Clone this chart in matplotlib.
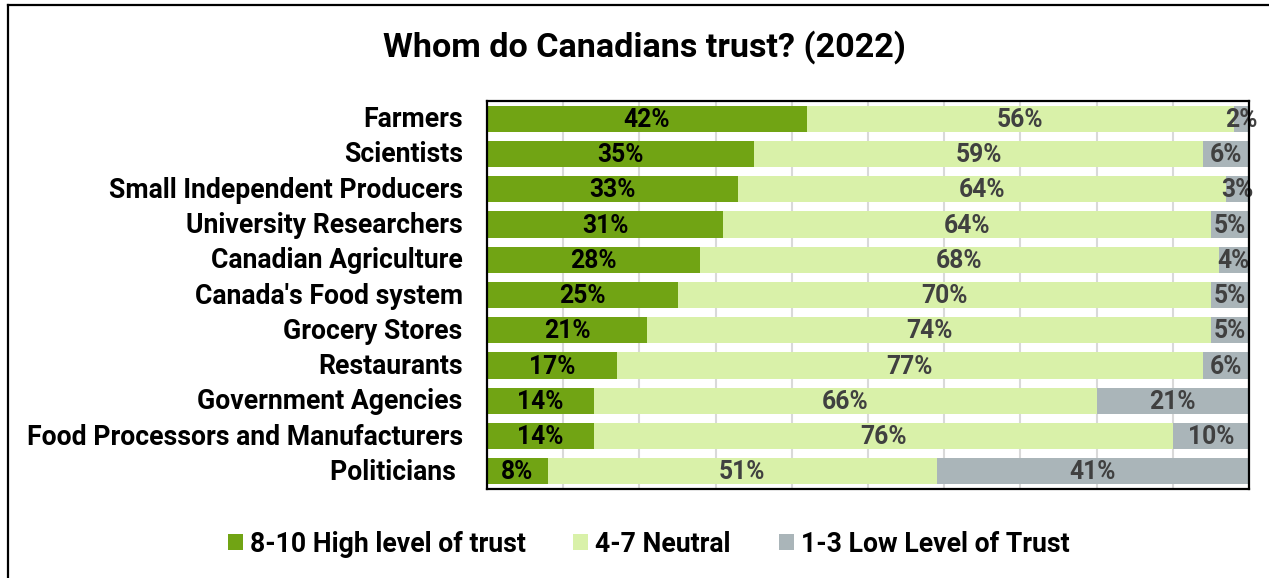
import matplotlib
matplotlib.use("Agg")
import matplotlib.pyplot as plt
import matplotlib.transforms as mtransforms
from matplotlib.lines import Line2D
from matplotlib.patches import Patch
import numpy as np

plt.rcParams['font.family'] = ['Roboto', 'DejaVu Sans']

categories = ["Farmers", "Scientists", "Small Independent Producers", "University Researchers",
              "Canadian Agriculture", "Canada's Food system", "Grocery Stores", "Restaurants",
              "Government Agencies", "Food Processors and Manufacturers", "Politicians "]
high = [42, 35, 33, 31, 28, 25, 21, 17, 14, 14, 8]
neutral = [56, 59, 64, 64, 68, 70, 74, 77, 66, 76, 51]
low = [2, 6, 3, 5, 4, 5, 5, 6, 21, 10, 41]
series_names = ["8-10 High level of trust", "4-7 Neutral", "1-3 Low Level of Trust"]
colors = ["#71a414", "#d9f1a9", "#aab5b9"]
label_colors = ["#000000", "#404040", "#404040"]
title = "Whom do Canadians trust? (2022)"

W, H = 1269, 578
fig = plt.figure(figsize=(W / 100, H / 100), dpi=100)
ax = fig.add_axes([487 / W, 1 - 489 / H, (1249 - 487) / W, (489 - 101) / H])

y = np.arange(len(categories))
left = np.zeros(len(categories))
for vals, col, lcol in zip([high, neutral, low], colors, label_colors):
    v = np.array(vals) / 100.0
    ax.barh(y, v, left=left, height=0.74, color=col, zorder=2)
    for yi, (l, w, val) in enumerate(zip(left, v, vals)):
        cx = l + w / 2
        if l + w > 1.0:
            cx = l + (1.0 - l) / 2
        ax.text(cx, yi + 0.03, f"{val}%", ha="center", va="center", fontsize=17.7,
                fontweight="bold", color=lcol, zorder=3)
    left = left + v

ax.set_xlim(0, 1)
ax.set_ylim(len(categories) - 0.5, -0.5)
ax.set_xticks(np.arange(0.1, 1.0, 0.1))
ax.set_xticklabels([])
ax.tick_params(axis="x", length=0)
ax.tick_params(axis="y", length=0, pad=17.5)
ax.set_yticks(y)
ax.set_yticklabels(categories, fontsize=19.2, fontweight="bold")
offset = mtransforms.ScaledTranslation(0, 2 / 100, fig.dpi_scale_trans)
for lab in ax.get_yticklabels():
    lab.set_transform(lab.get_transform() + offset)
ax.grid(axis="x", color="#d9d9d9", linewidth=1.5, zorder=0)
for s in ax.spines.values():
    s.set_linewidth(1.6)
    s.set_color("black")
    s.set_zorder(4)

fig.text(644 / W, 1 - 47 / H, title, ha="center", va="center", fontsize=24.6, fontweight="bold")

handles = [Patch(facecolor=c, edgecolor="none") for c in colors]
fig.legend(handles, series_names, loc="center", bbox_to_anchor=(648.5 / W, 1 - 544 / H),
           ncol=3, frameon=False, prop={"weight": "bold", "size": 19.2},
           handlelength=0.56, handleheight=0.56, handletextpad=0.26, columnspacing=1.8)

# figure border (open on right and bottom)
fig.add_artist(Line2D([8 / W, 8 / W], [0, 1 - 5 / H], color="black", lw=1.6, transform=fig.transFigure))
fig.add_artist(Line2D([8 / W, 1], [1 - 5 / H, 1 - 5 / H], color="black", lw=1.6, transform=fig.transFigure))

fig.savefig("out.png", dpi=100)
